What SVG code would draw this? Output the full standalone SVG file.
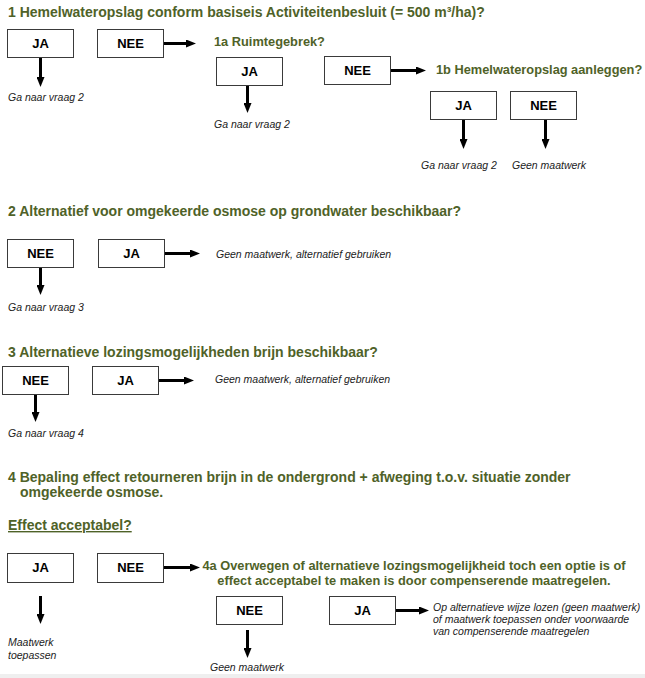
<svg xmlns="http://www.w3.org/2000/svg" width="645" height="678" viewBox="0 0 645 678">
<style>
.q{font-family:"Liberation Sans",Arial,sans-serif;font-weight:bold;font-size:14px;fill:#4f6228}
.sq{font-family:"Liberation Sans",Arial,sans-serif;font-weight:bold;font-size:12.8px;fill:#4f6228}
.box{fill:#fff;stroke:#3a3a3a;stroke-width:1}
.lbl{font-family:"Liberation Sans",Arial,sans-serif;font-weight:bold;font-size:13px;fill:#000;text-anchor:middle}
.it{font-family:"Liberation Sans",Arial,sans-serif;font-style:italic;font-size:10.5px;fill:#222}
.c{stroke:#000;stroke-width:3;fill:none;marker-end:url(#ah)}
</style>
<defs>
<marker id="ah" markerUnits="userSpaceOnUse" markerWidth="10" markerHeight="8" viewBox="0 0 10 8" refX="0" refY="4" orient="auto"><path d="M0,0 L10,4 L0,8 z" fill="#000"/></marker>
</defs>
<rect x="0" y="0" width="645" height="678" fill="#fff"/>
<rect x="0" y="674" width="645" height="4" fill="#efefef"/>

<g id="texts">
<text class="q" x="8" y="17">1 Hemelwateropslag conform basiseis Activiteitenbesluit (= 500 m³/ha)?</text>
<text class="sq" x="214" y="46">1a Ruimtegebrek?</text>
<text class="sq" x="436" y="74">1b Hemelwateropslag aanleggen?</text>
<text class="it" x="8" y="101">Ga naar vraag 2</text>
<text class="it" x="214" y="128">Ga naar vraag 2</text>
<text class="it" x="421" y="169">Ga naar vraag 2</text>
<text class="it" x="512" y="169">Geen maatwerk</text>

<text class="q" x="8" y="216">2 Alternatief voor omgekeerde osmose op grondwater beschikbaar?</text>
<text class="it" x="216" y="258">Geen maatwerk, alternatief gebruiken</text>
<text class="it" x="8" y="311">Ga naar vraag 3</text>

<text class="q" x="8" y="357">3 Alternatieve lozingsmogelijkheden brijn beschikbaar?</text>
<text class="it" x="215" y="383">Geen maatwerk, alternatief gebruiken</text>
<text class="it" x="8" y="437">Ga naar vraag 4</text>

<text class="q" x="8" y="482">4 Bepaling effect retourneren brijn in de ondergrond + afweging t.o.v. situatie zonder</text>
<text class="q" x="20" y="497">omgekeerde osmose.</text>
<text class="q" x="8" y="530" text-decoration="underline">Effect acceptabel?</text>
<text class="sq" x="414" y="570" text-anchor="middle">4a Overwegen of alternatieve lozingsmogelijkheid toch een optie is of</text>
<text class="sq" x="414" y="585" text-anchor="middle">effect acceptabel te maken is door compenserende maatregelen.</text>
<text class="it" x="433" y="611">Op alternatieve wijze lozen (geen maatwerk)</text>
<text class="it" x="433" y="623">of maatwerk toepassen onder voorwaarde</text>
<text class="it" x="433" y="635">van compenserende maatregelen</text>
<text class="it" x="8" y="646">Maatwerk</text>
<text class="it" x="8" y="659">toepassen</text>
<text class="it" x="210" y="671">Geen maatwerk</text>
</g>

<g id="n1-ja"><rect class="box" x="7.5" y="29.5" width="66" height="28"/><text class="lbl" x="40.5" y="48">JA</text></g>
<g id="n1-nee"><rect class="box" x="97.5" y="29.5" width="66" height="28"/><text class="lbl" x="130.5" y="48">NEE</text></g>
<g id="n1a-ja"><rect class="box" x="216.5" y="57.5" width="66" height="28"/><text class="lbl" x="249.5" y="76">JA</text></g>
<g id="n1a-nee"><rect class="box" x="324.5" y="56.5" width="66" height="28"/><text class="lbl" x="357.5" y="75">NEE</text></g>
<g id="n1b-ja"><rect class="box" x="430.5" y="91.5" width="66" height="28"/><text class="lbl" x="463.5" y="110">JA</text></g>
<g id="n1b-nee"><rect class="box" x="510.5" y="91.5" width="66" height="28"/><text class="lbl" x="543.5" y="110">NEE</text></g>
<g id="n2-nee"><rect class="box" x="7.5" y="239.5" width="66" height="28"/><text class="lbl" x="40.5" y="258">NEE</text></g>
<g id="n2-ja"><rect class="box" x="98.5" y="239.5" width="66" height="28"/><text class="lbl" x="131.5" y="258">JA</text></g>
<g id="n3-nee"><rect class="box" x="2.5" y="366.5" width="66" height="28"/><text class="lbl" x="35.5" y="385">NEE</text></g>
<g id="n3-ja"><rect class="box" x="92.5" y="366.5" width="66" height="28"/><text class="lbl" x="125.5" y="385">JA</text></g>
<g id="n4-ja"><rect class="box" x="7.5" y="553.5" width="66" height="29"/><text class="lbl" x="40.5" y="572">JA</text></g>
<g id="n4-nee"><rect class="box" x="97.5" y="553.5" width="66" height="29"/><text class="lbl" x="130.5" y="572">NEE</text></g>
<g id="n4a-nee"><rect class="box" x="216.5" y="596.5" width="66" height="28"/><text class="lbl" x="249.5" y="615">NEE</text></g>
<g id="n4a-ja"><rect class="box" x="329.5" y="596.5" width="66" height="28"/><text class="lbl" x="362.5" y="615">JA</text></g>

<g id="connectors">
<line class="c" x1="164" y1="43.5" x2="186" y2="43.5"/>
<line class="c" x1="40.5" y1="58" x2="40.5" y2="77"/>
<line class="c" x1="247.5" y1="86" x2="247.5" y2="103"/>
<line class="c" x1="391" y1="70.5" x2="416" y2="70.5"/>
<line class="c" x1="463.5" y1="120" x2="463.5" y2="139"/>
<line class="c" x1="545.5" y1="120" x2="545.5" y2="139"/>
<line class="c" x1="165" y1="253.5" x2="190" y2="253.5"/>
<line class="c" x1="40.5" y1="268" x2="40.5" y2="285"/>
<line class="c" x1="159" y1="380.5" x2="184" y2="380.5"/>
<line class="c" x1="35.5" y1="395" x2="35.5" y2="412"/>
<line class="c" x1="164" y1="567.5" x2="190" y2="567.5"/>
<line class="c" x1="40.5" y1="596" x2="40.5" y2="614"/>
<line class="c" x1="247.5" y1="630" x2="247.5" y2="648"/>
<line class="c" x1="396" y1="610.5" x2="419" y2="610.5"/>
</g>
</svg>
